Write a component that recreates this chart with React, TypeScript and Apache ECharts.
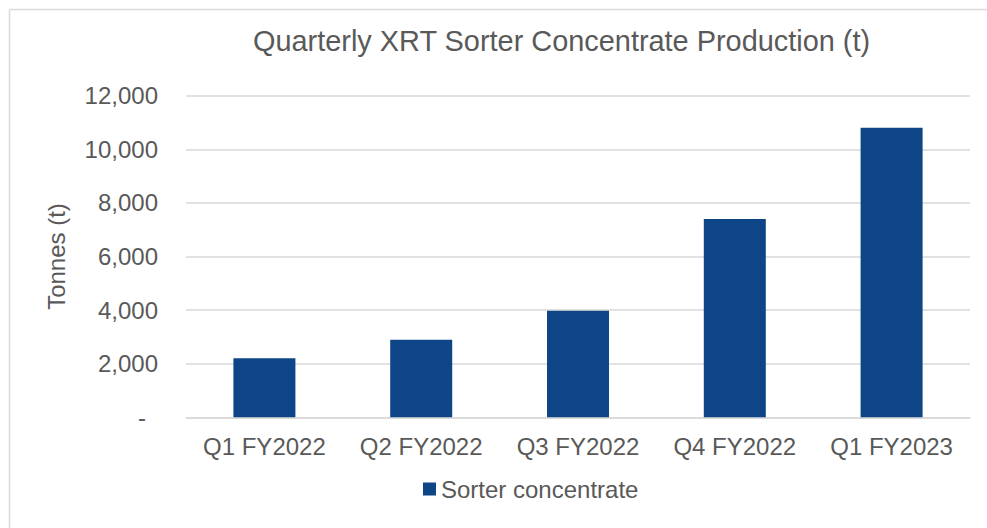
import React, { useEffect, useRef } from "react";
import * as echarts from "echarts";

const categories = ["Q1 FY2022", "Q2 FY2022", "Q3 FY2022", "Q4 FY2022", "Q1 FY2023"];
const sorterConcentrate = [2200, 2890, 3980, 7400, 10800];
const seriesName = "Sorter concentrate";
const titleText = "Quarterly XRT Sorter Concentrate Production (t)";
const yAxisName = "Tonnes (t)";

const TEXT = "#595959";
const GRID = "#d9d9d9";
const BAR = "#0E4586";
const FONT = "Liberation Sans, Arial, sans-serif";

export default function App() {
  const ref = useRef<HTMLDivElement>(null);
  useEffect(() => {
    document.body.style.margin = "0";
    document.body.style.overflow = "hidden";
    if (!ref.current) return;
    const chart = echarts.init(ref.current, undefined, { renderer: "svg" });
    chart.setOption({
      animation: false,
      backgroundColor: "#ffffff",
      textStyle: { fontFamily: FONT, color: TEXT },
      graphic: [
        {
          type: "line",
          shape: { x1: 9.5, y1: 9.5, x2: 987, y2: 9.5 },
          style: { stroke: GRID, lineWidth: 1.5 },
          silent: true,
        },
        {
          type: "line",
          shape: { x1: 9.5, y1: 9.5, x2: 9.5, y2: 528 },
          style: { stroke: GRID, lineWidth: 1.5 },
          silent: true,
        },
      ],
      title: {
        text: titleText,
        left: 253,
        top: 26,
        padding: 0,
        textStyle: { fontFamily: FONT, fontSize: 28.9, fontWeight: "normal", color: TEXT },
      },
      legend: {
        data: [seriesName],
        left: 423,
        top: 477,
        padding: 0,
        itemWidth: 13,
        itemHeight: 13,
        itemGap: 10,
        icon: "rect",
        textStyle: { fontFamily: FONT, fontSize: 24, color: TEXT },
      },
      grid: { left: 186, right: 17, top: 95.7, bottom: 110.7, containLabel: false },
      xAxis: {
        type: "category",
        data: categories,
        axisLine: { show: true, lineStyle: { color: GRID, width: 1.5 } },
        axisTick: { show: false },
        axisLabel: { fontFamily: FONT, fontSize: 24, color: TEXT, margin: 17, interval: 0 },
      },
      yAxis: {
        type: "value",
        min: 0,
        max: 12000,
        interval: 2000,
        name: yAxisName,
        nameLocation: "middle",
        nameGap: 118,
        nameTextStyle: { fontFamily: FONT, fontSize: 24, color: TEXT },
        axisLine: { show: false },
        axisTick: { show: false },
        splitLine: { lineStyle: { color: GRID, width: 1.5 } },
        axisLabel: {
          fontFamily: FONT,
          fontSize: 24,
          color: TEXT,
          margin: 28,
          formatter: (v: number) => (v === 0 ? "{d|-}" : v.toLocaleString("en-US")),
          rich: { d: { fontFamily: FONT, fontSize: 24, color: TEXT, padding: [0, 12, 0, 0] } },
        },
      },
      series: [
        {
          name: seriesName,
          type: "bar",
          data: sorterConcentrate,
          barWidth: 62,
          itemStyle: { color: BAR },
        },
      ],
    });
    return () => chart.dispose();
  }, []);
  return <div ref={ref} style={{ width: 987, height: 528 }} />;
}
